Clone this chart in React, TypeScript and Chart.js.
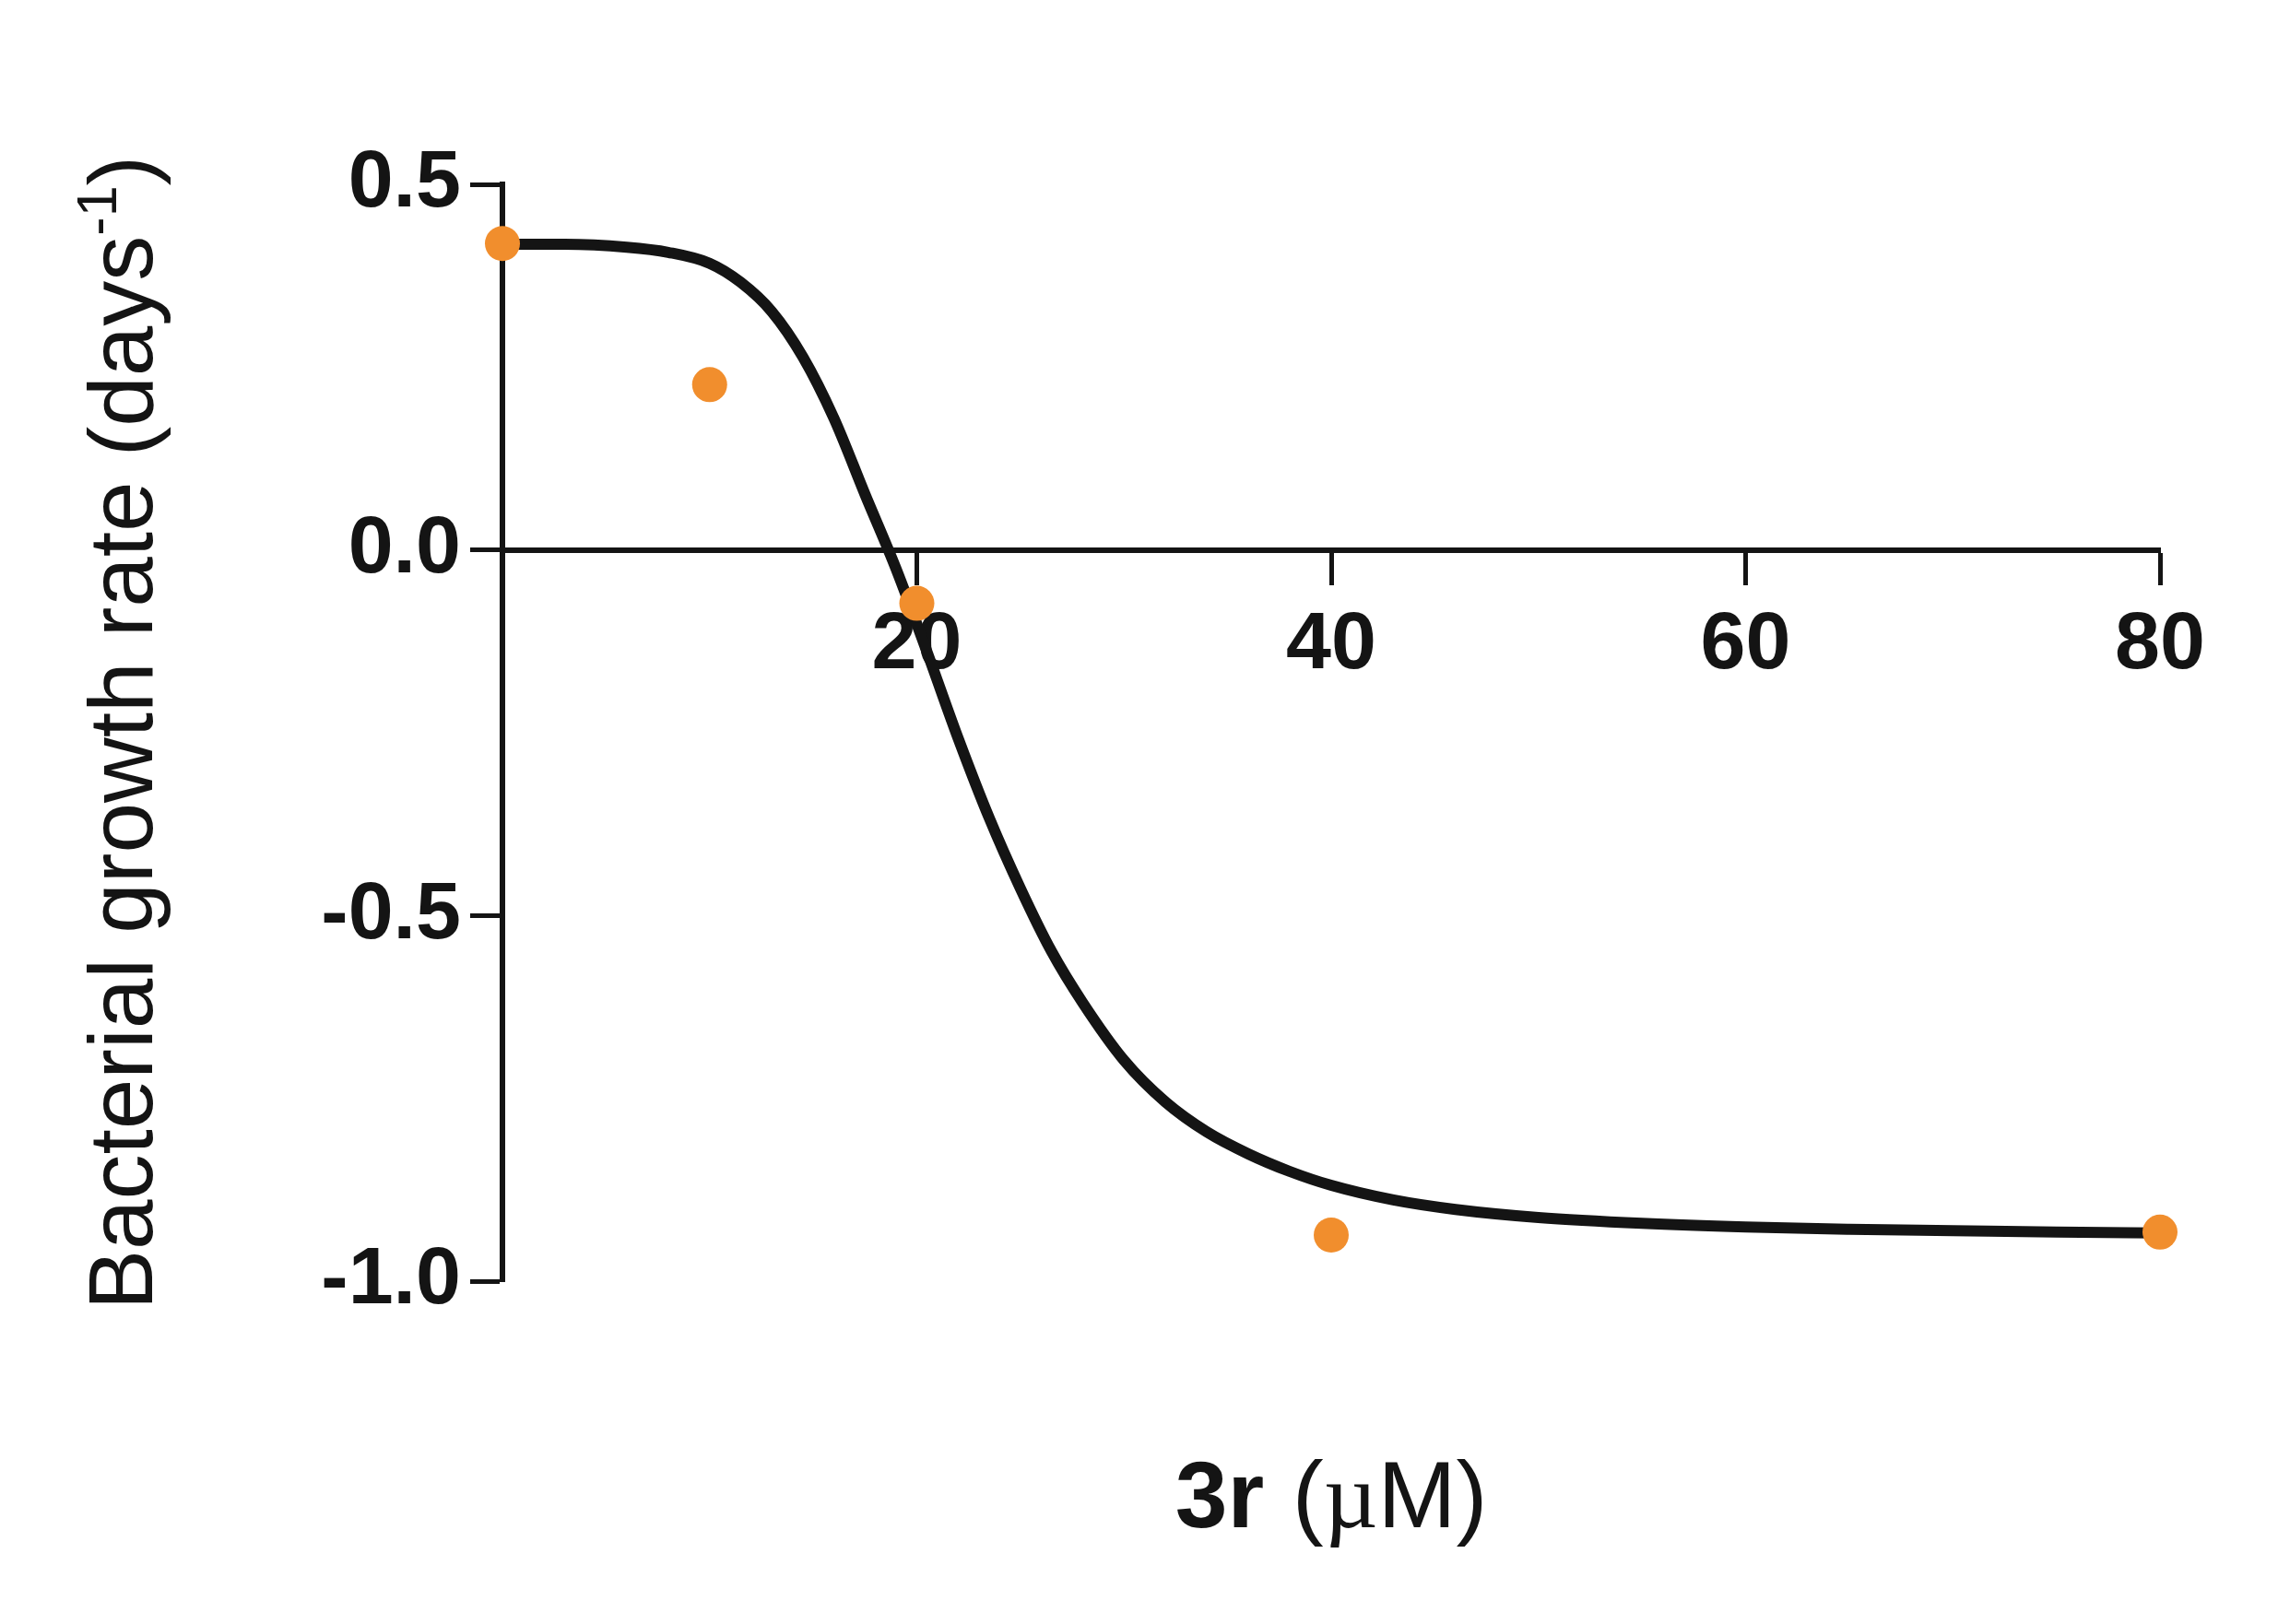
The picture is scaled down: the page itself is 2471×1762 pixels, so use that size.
import React, { useEffect, useRef } from "react";
import { Chart, registerables } from "chart.js";

Chart.register(...registerables);

// ---- data ----
const concentrations = [0, 10, 20, 40, 80];
const growthRates = [0.419, 0.226, -0.073, -0.937, -0.933];

const fitX = [0, 3, 6, 8, 10, 11.5, 13, 14.5, 16, 17.5, 19, 20.5, 22, 23.5, 25, 26.5, 28, 30, 32, 34, 36, 38, 40, 43, 46, 50, 55, 60, 65, 70, 75, 80];
const fitY = [0.418, 0.418, 0.414, 0.407, 0.392, 0.366, 0.326, 0.264, 0.18, 0.076, -0.026, -0.14, -0.258, -0.367, -0.463, -0.549, -0.619, -0.698, -0.755, -0.796, -0.826, -0.85, -0.869, -0.889, -0.902, -0.913, -0.921, -0.926, -0.929, -0.931, -0.933, -0.934];

const xTickValues = [20, 40, 60, 80];
const yTickValues = [0.5, 0, -0.5, -1.0];

const yTitleMain = "Bacterial growth rate (days";
const yTitleSup = "-1";
const yTitleEnd = ")";
const xTitleBold = "3r";
const xTitleOpen = "(";
const xTitleMu = "\u00B5";
const xTitleRest = "M)";

const FAMILY = '"Liberation Sans", Arial, Helvetica, sans-serif';
const SERIF = '"Liberation Serif", "Times New Roman", serif';
const INK = "#141414";
const ORANGE = "#F18E2D";

const titlesPlugin = {
  id: "axisTitles",
  afterDraw(chart: any) {
    const ctx = chart.ctx as CanvasRenderingContext2D;
    const ca = chart.chartArea;
    ctx.save();
    ctx.fillStyle = INK;
    ctx.textAlign = "left";
    ctx.textBaseline = "alphabetic";

    // y title (rotated, with superscript)
    const fs = 98;
    const big = `${fs}px ${FAMILY}`;
    const small = `${Math.round(fs * 0.62)}px ${FAMILY}`;
    ctx.font = big;
    const wMain = ctx.measureText(yTitleMain).width;
    const wEnd = ctx.measureText(yTitleEnd).width;
    ctx.font = small;
    const wSup = ctx.measureText(yTitleSup).width;
    const total = wMain + wSup + wEnd;
    const cy = (ca.top + ca.bottom) / 2;
    ctx.translate(ca.left - 380, cy);
    ctx.rotate(-Math.PI / 2);
    let x = -total / 2;
    ctx.font = big;
    ctx.fillText(yTitleMain, x, 0);
    x += wMain;
    ctx.font = small;
    ctx.fillText(yTitleSup, x, -fs * 0.4);
    x += wSup;
    ctx.font = big;
    ctx.fillText(yTitleEnd, x, 0);
    ctx.setTransform(1, 0, 0, 1, 0, 0);

    // x title, mixed bold / regular
    const xs = 102;
    const boldF = `bold ${xs}px ${FAMILY}`;
    const regF = `${xs}px ${FAMILY}`;
    const muF = `${xs}px ${SERIF}`;
    ctx.font = boldF;
    const w1 = ctx.measureText(xTitleBold).width;
    const gap = xs * 0.3;
    ctx.font = regF;
    const w2 = ctx.measureText(xTitleOpen).width;
    const w4 = ctx.measureText(xTitleRest).width;
    ctx.font = muF;
    const w3 = ctx.measureText(xTitleMu).width;
    const tw = w1 + gap + w2 + w3 + w4;
    const baseY = ca.bottom + 267;
    let xx = (ca.left + ca.right) / 2 - tw / 2;
    ctx.font = boldF;
    ctx.fillText(xTitleBold, xx, baseY);
    xx += w1 + gap;
    ctx.font = regF;
    ctx.fillText(xTitleOpen, xx, baseY);
    xx += w2;
    ctx.font = muF;
    ctx.fillText(xTitleMu, xx, baseY);
    xx += w3;
    ctx.font = regF;
    ctx.fillText(xTitleRest, xx, baseY);
    ctx.restore();
  },
};

export default function App() {
  const canvasRef = useRef<HTMLCanvasElement | null>(null);

  useEffect(() => {
    const canvas = canvasRef.current;
    if (!canvas) return;
    const chart = new Chart(canvas, {
      type: "scatter",
      data: {
        datasets: [
          {
            label: "data",
            data: concentrations.map((c, i) => ({ x: c, y: growthRates[i] })),
            backgroundColor: ORANGE,
            borderColor: ORANGE,
            pointRadius: 19,
            pointBorderWidth: 0,
            pointHoverRadius: 19,
            showLine: false,
            clip: false,
            order: 0,
          },
          {
            label: "fit",
            data: fitX.map((c, i) => ({ x: c, y: fitY[i] })),
            borderColor: INK,
            backgroundColor: INK,
            borderWidth: 12,
            borderJoinStyle: "round",
            pointRadius: 0,
            pointHoverRadius: 0,
            showLine: true,
            cubicInterpolationMode: "monotone",
            clip: false,
            order: 1,
          },
        ],
      },
      options: {
        responsive: false,
        animation: false,
        devicePixelRatio: 1,
        layout: { padding: { top: 200, right: 128, bottom: 372, left: 0 } },
        plugins: {
          legend: { display: false },
          tooltip: { enabled: false },
          title: { display: false },
        },
        scales: {
          x: {
            type: "linear",
            min: 0,
            max: 80,
            position: { y: 0 } as any,
            afterBuildTicks: (s: any) => {
              s.ticks = xTickValues.map((v) => ({ value: v }));
            },
            border: { display: true, color: INK, width: 6 },
            grid: {
              drawOnChartArea: false,
              drawTicks: true,
              tickLength: 35,
              tickWidth: 5,
              tickColor: INK,
              color: INK,
            },
            ticks: {
              color: INK,
              padding: 16,
              maxRotation: 0,
              autoSkip: false,
              font: { family: FAMILY, size: 88, weight: "bold" },
              callback: (v: any) => String(v),
            },
          },
          y: {
            type: "linear",
            min: -1,
            max: 0.5,
            position: "left",
            afterFit: (s: any) => {
              s.width = 545;
            },
            afterBuildTicks: (s: any) => {
              s.ticks = yTickValues.map((v) => ({ value: v }));
            },
            border: { display: true, color: INK, width: 6 },
            grid: {
              drawOnChartArea: false,
              drawTicks: true,
              tickLength: 35,
              tickWidth: 5,
              tickColor: INK,
              color: INK,
            },
            ticks: {
              color: INK,
              padding: 10,
              autoSkip: false,
              font: { family: FAMILY, size: 88, weight: "bold" },
              callback: (v: any) => Number(v).toFixed(1),
            },
          },
        },
      },
      plugins: [titlesPlugin],
    });
    return () => chart.destroy();
  }, []);

  return (
    <div
      style={{
        position: "fixed",
        left: 0,
        top: 0,
        width: 2471,
        height: 1762,
        background: "#ffffff",
      }}
    >
      <canvas
        ref={canvasRef}
        width={2471}
        height={1762}
        style={{ display: "block", width: 2471, height: 1762 }}
      />
    </div>
  );
}
